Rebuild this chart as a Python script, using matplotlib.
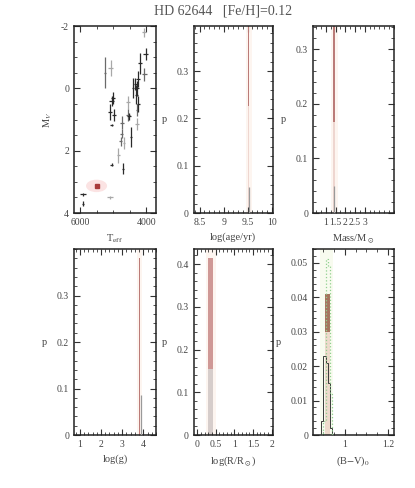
import matplotlib
matplotlib.use("Agg")
import matplotlib.pyplot as plt
import numpy as np
from matplotlib.patches import Ellipse
from matplotlib.ticker import MultipleLocator, FuncFormatter

plt.rcParams['font.family'] = ['Liberation Serif', 'DejaVu Serif']
plt.rcParams['mathtext.fontset'] = 'stix'
plt.rcParams['font.size'] = 7

titre = "HD 62644   [Fe/H]=0.12"

# Diagramme HR : etoiles de comparaison (Teff, Mv, erreurs, teinte 0=fonce 1=moyen 2=clair)
teff   = [4080, 4020, 4190, 4060, 4240, 4330, 4280, 4300, 4240, 4280, 4540, 5250, 5080,
          5000, 5050, 5100, 4980, 4550, 5050, 4750, 4520, 4460, 4280, 4750, 4780, 4680,
          4850, 5050, 4700, 5920, 5100, 5920, 4400]
mv     = [-1.80, -1.10, -0.80, -0.45, -0.30, -0.15, 0.00, 0.20, 0.50, 0.70, 0.45, -0.50, -0.65,
          0.30, 0.40, 0.75, 0.85, 0.85, 1.18, 1.10, 0.90, 1.55, 1.15, 1.45, 1.70, 1.75,
          2.15, 2.45, 2.58, 3.40, 3.50, 3.70, 0.00]
e_teff = [60, 80, 50, 70, 60, 50, 60, 50, 50, 40, 60, 40, 80,
          60, 80, 60, 50, 60, 50, 60, 60, 40, 70, 40, 50, 40,
          50, 50, 40, 80, 80, 20, 40]
e_mv   = [0.15, 0.20, 0.35, 0.20, 0.25, 0.20, 0.25, 0.30, 0.25, 0.20, 0.20, 0.50, 0.25,
          0.20, 0.15, 0.25, 0.20, 0.20, 0.04, 0.20, 0.10, 0.32, 0.20, 0.15, 0.15, 0.20,
          0.25, 0.04, 0.18, 0.04, 0.04, 0.08, 0.32]
teinte = [2, 0, 0, 1, 0, 0, 0, 0, 0, 1, 2, 1, 2,
          0, 0, 0, 0, 1, 0, 1, 0, 0, 2, 1, 1, 2,
          2, 0, 0, 0, 2, 0, 0]

# L'etoile elle-meme
etoile_teff, etoile_mv = 5510, 3.13
etoile_eteff, etoile_emv = 320, 0.20

# Histogrammes : centre, p (haut), debut partie foncee, trait gris (x, p), intervalle
age_x, age_p, age_pf = 9.52, 0.50, 0.226
age_gx, age_gp = 9.535, 0.055
age_int = (9.47, 9.59)

masse_x, masse_p, masse_pf = 1.41, 0.50, 0.166
masse_gx, masse_gp = 1.44, 0.05
masse_int = (1.25, 1.60)

logg_x, logg_p, logg_pf = 3.81, 0.38, 0.0
logg_gx, logg_gp = 3.89, 0.085
logg_int = (3.68, 3.92)

rayon_x, rayon_p, rayon_pf = 0.36, 0.415, 0.155
rayon_gx, rayon_gp = 0.36, 0.155
rayon_int = (0.24, 0.52)

# (B-V)0 : trois histogrammes
bv_bords = [0.89, 0.90, 0.91, 0.92, 0.93, 0.94]
bv_vert  = [0.0, 0.004, 0.051, 0.049, 0.012]
bv_noir  = [0.004, 0.023, 0.021, 0.015, 0.002]
bv_x, bv_p, bv_pf = 0.918, 0.041, 0.030
bv_int = (0.883, 0.944)

gris = {0: '#2a2a2a', 1: '#6a6a6a', 2: '#a8a8a8'}
fmt = FuncFormatter(lambda v, p: '%g' % round(v, 6))


def cadre(ax, xmaj, xmin, ymaj, ymin):
    ax.xaxis.set_major_locator(MultipleLocator(xmaj))
    ax.xaxis.set_minor_locator(MultipleLocator(xmin))
    ax.yaxis.set_major_locator(MultipleLocator(ymaj))
    ax.yaxis.set_minor_locator(MultipleLocator(ymin))
    ax.xaxis.set_major_formatter(fmt)
    ax.yaxis.set_major_formatter(fmt)
    ax.tick_params(which='both', direction='in', top=True, right=True,
                   labelsize=7, colors='#333333', labelcolor='#444444')
    ax.tick_params(which='major', length=4, width=0.8)
    ax.tick_params(which='minor', length=2, width=0.6)
    for s in ax.spines.values():
        s.set_linewidth(1.1)
        s.set_color('#222222')


def etiquette_p(ax):
    ax.set_ylabel('p', rotation=0, fontsize=7.5, color='#444444', labelpad=9, va='center')


def histo(ax, x, p, pf, gx, gp, inter, larg):
    ax.axvspan(inter[0], inter[1], color='#fdf5f0', lw=0, zorder=0)
    ax.bar([x], [p], width=larg, color='#eed6d0', lw=0, zorder=1)
    ax.bar([x], [p - pf], bottom=[pf], width=larg, color='#bb7b78', lw=0, zorder=2)
    ax.vlines([gx], 0, [gp], color='#9a9a9a', lw=0.9, zorder=3)
    etiquette_p(ax)


fig = plt.figure(figsize=(4.15, 4.88), dpi=100)
fig.text(0.537, 0.978, titre, ha='center', va='center', fontsize=10, color='#555555')

haut_b, haut_h = 0.5635, 0.383
bas_b, bas_h = 0.1086, 0.381
gauche = [0.178, 0.467, 0.754]
larg = [0.198, 0.190, 0.195]

# HR
ax1 = fig.add_axes([gauche[0], haut_b, larg[0], haut_h])
for t in (2, 1, 0):
    idx = [i for i in range(len(teff)) if teinte[i] == t]
    ax1.errorbar([teff[i] for i in idx], [mv[i] for i in idx],
                 xerr=[e_teff[i] for i in idx], yerr=[e_mv[i] for i in idx],
                 fmt='none', ecolor=gris[t], elinewidth=0.9, capsize=0)
ax1.add_patch(Ellipse((etoile_teff, etoile_mv), 2 * etoile_eteff, 2 * etoile_emv,
                      facecolor='#fbe3e3', edgecolor='none', zorder=1))
ax1.plot([etoile_teff], [etoile_mv], 's', ms=3.5, color='#a83c3c', zorder=3)
ax1.set_xlim(6200, 3700)
ax1.set_ylim(4, -2)
cadre(ax1, 2000, 500, 2, 0.5)
ax1.set_xlabel(r'T$_{\rm eff}$', fontsize=7.5, color='#444444')
ax1.set_ylabel(r'M$_V$', fontsize=7.5, color='#444444', labelpad=5)

# age
ax2 = fig.add_axes([gauche[1], haut_b, larg[1], haut_h])
histo(ax2, age_x, age_p, age_pf, age_gx, age_gp, age_int, 0.03)
ax2.set_xlim(8.38, 10.02)
ax2.set_ylim(0, 0.395)
cadre(ax2, 0.5, 0.1, 0.1, 0.02)
ax2.set_xlabel('log(age/yr)', fontsize=7.5, color='#444444')

# masse
ax3 = fig.add_axes([gauche[2], haut_b, larg[2], haut_h])
histo(ax3, masse_x, masse_p, masse_pf, masse_gx, masse_gp, masse_int, 0.1)
ax3.set_xlim(0.33, 4.5)
ax3.set_ylim(0, 0.342)
cadre(ax3, 0.5, 0.25, 0.1, 0.02)
ax3.set_xticks([1, 1.5, 2, 2.5, 3])
ax3.set_xlabel(r'Mass/M$_\odot$', fontsize=7.5, color='#444444')

# log g
ax4 = fig.add_axes([gauche[0], bas_b, larg[0], bas_h])
histo(ax4, logg_x, logg_p, logg_pf, logg_gx, logg_gp, logg_int, 0.05)
ax4.set_xlim(0.72, 4.6)
ax4.set_ylim(0, 0.40)
cadre(ax4, 1, 0.2, 0.1, 0.02)
ax4.set_yticks([0, 0.1, 0.2, 0.3])
ax4.set_xlabel('log(g)', fontsize=7.5, color='#444444')

# rayon
ax5 = fig.add_axes([gauche[1], bas_b, larg[1], bas_h])
ax5.axvspan(rayon_int[0], rayon_int[1], color='#fdf5f0', lw=0, zorder=0)
ax5.bar([rayon_gx], [rayon_gp], width=0.11, color='#d6cdcb', lw=0, zorder=1)
ax5.bar([rayon_x], [rayon_p - rayon_pf], bottom=[rayon_pf], width=0.11,
        color='#cf9896', lw=0, zorder=2)
etiquette_p(ax5)
ax5.set_xlim(-0.09, 2.03)
ax5.set_ylim(0, 0.435)
cadre(ax5, 0.5, 0.1, 0.1, 0.02)
ax5.set_xlabel(r'log(R/R$_\odot$)', fontsize=7.5, color='#444444')

# (B-V)0
ax6 = fig.add_axes([gauche[2], bas_b, larg[2], bas_h])
ax6.axvspan(bv_int[0], bv_int[1], color='#f8fbef', lw=0, zorder=0)
ax6.bar([bv_x], [bv_p], width=0.023, color='#eedacc', lw=0, zorder=1)
ax6.bar([bv_x], [bv_p - bv_pf], bottom=[bv_pf], width=0.023, color='#a6745e', lw=0, zorder=2)
ax6.stairs(bv_noir, bv_bords, color='#3a3a3a', lw=0.7, zorder=3)
ax6.stairs(bv_vert, bv_bords, color='#8fd08f', lw=0.9, ls=':', zorder=4)
etiquette_p(ax6)
ax6.set_xlim(0.851, 1.228)
ax6.set_ylim(0, 0.054)
cadre(ax6, 0.2, 0.05, 0.01, 0.002)
ax6.set_xlabel(r'(B$-$V)$_0$', fontsize=7.5, color='#444444')

fig.savefig('out.png', dpi=100)
